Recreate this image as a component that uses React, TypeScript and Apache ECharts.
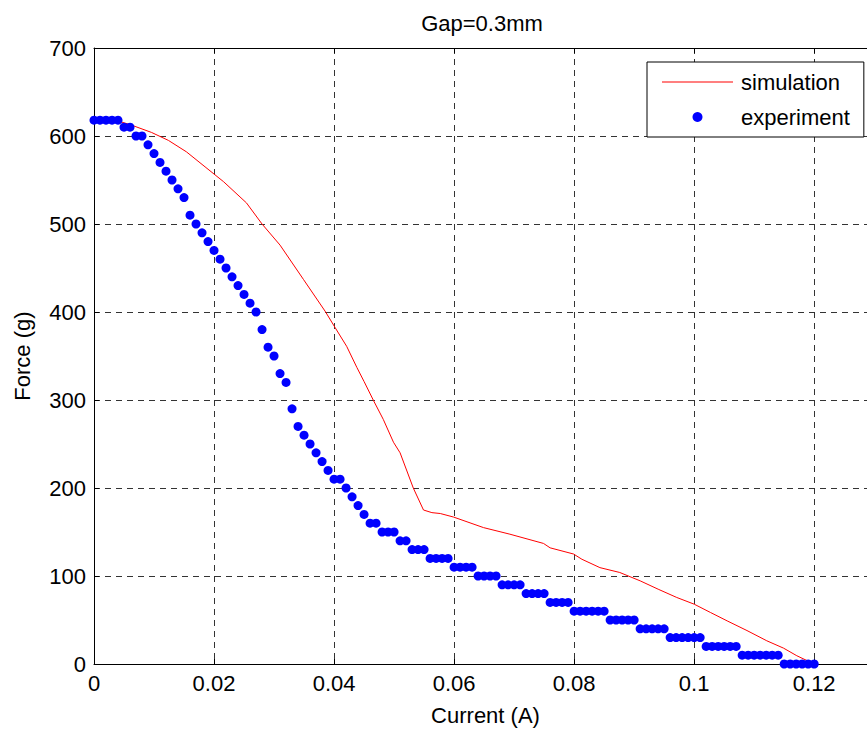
import React, { useEffect, useRef } from "react";
import * as echarts from "echarts";

const titleText = "Gap=0.3mm";
const xAxisName = "Current (A)";
const yAxisName = "Force (g)";
const simName = "simulation";
const expName = "experiment";

// experiment: current (A)
const expCurrent = [
  0, 0.001, 0.002, 0.003, 0.004, 0.005, 0.006, 0.007, 0.008, 0.009,
  0.01, 0.011, 0.012, 0.013, 0.014, 0.015, 0.016, 0.017, 0.018, 0.019,
  0.02, 0.021, 0.022, 0.023, 0.024, 0.025, 0.026, 0.027, 0.028, 0.029,
  0.03, 0.031, 0.032, 0.033, 0.034, 0.035, 0.036, 0.037, 0.038, 0.039,
  0.04, 0.041, 0.042, 0.043, 0.044, 0.045, 0.046, 0.047, 0.048, 0.049,
  0.05, 0.051, 0.052, 0.053, 0.054, 0.055, 0.056, 0.057, 0.058, 0.059,
  0.06, 0.061, 0.062, 0.063, 0.064, 0.065, 0.066, 0.067, 0.068, 0.069,
  0.07, 0.071, 0.072, 0.073, 0.074, 0.075, 0.076, 0.077, 0.078, 0.079,
  0.08, 0.081, 0.082, 0.083, 0.084, 0.085, 0.086, 0.087, 0.088, 0.089,
  0.09, 0.091, 0.092, 0.093, 0.094, 0.095, 0.096, 0.097, 0.098, 0.099,
  0.1, 0.101, 0.102, 0.103, 0.104, 0.105, 0.106, 0.107, 0.108, 0.109,
  0.11, 0.111, 0.112, 0.113, 0.114, 0.115, 0.116, 0.117, 0.118, 0.119,
  0.12,
];
// experiment: force (g)
const expForce = [
  618, 618, 618, 618, 618, 610, 610, 600, 600, 590,
  580, 570, 560, 550, 540, 530, 510, 500, 490, 480,
  470, 460, 450, 440, 430, 420, 410, 400, 380, 360,
  350, 330, 320, 290, 270, 260, 250, 240, 230, 220,
  210, 210, 200, 190, 180, 170, 160, 160, 150, 150,
  150, 140, 140, 130, 130, 130, 120, 120, 120, 120,
  110, 110, 110, 110, 100, 100, 100, 100, 90, 90,
  90, 90, 80, 80, 80, 80, 70, 70, 70, 70,
  60, 60, 60, 60, 60, 60, 50, 50, 50, 50,
  50, 40, 40, 40, 40, 40, 30, 30, 30, 30,
  30, 30, 20, 20, 20, 20, 20, 20, 10, 10,
  10, 10, 10, 10, 10, 0, 0, 0, 0, 0,
  0,
];

// simulation curve
const simCurrent = [
  0, 0.004, 0.006, 0.0096, 0.0124, 0.0154, 0.0185, 0.0216, 0.0254, 0.028,
  0.031, 0.0349, 0.0385, 0.0402, 0.0421, 0.0438, 0.045, 0.0466, 0.0482, 0.0499,
  0.051, 0.0532, 0.0549, 0.0563, 0.0577, 0.0599, 0.0649, 0.0693, 0.0749, 0.076,
  0.0799, 0.0813, 0.0843, 0.0876, 0.091, 0.094, 0.0971, 0.1, 0.1027, 0.1055,
  0.1088, 0.1121, 0.1149, 0.1171, 0.12,
];
const simForce = [
  618, 617, 613, 604, 595, 582, 565, 548, 524, 500,
  476, 437, 401, 382, 361, 337, 321, 299, 278, 252,
  240, 200, 175, 172, 171, 167, 155, 147.5, 137, 132,
  125, 119, 109.5, 104, 94.5, 85, 75.6, 68, 58.6, 49,
  38, 26.4, 18, 9.4, 0,
];

// visible x-extent (the plot is cropped at the right edge of the picture)
const xMin = 0;
const xMax = 0.1288;
const xStep = 0.02;
const yMin = 0;
const yMax = 700;
const yStep = 100;

const FONT = "'Liberation Sans', Arial, Helvetica, sans-serif";

export default function App() {
  const ref = useRef<HTMLDivElement>(null);
  useEffect(() => {
    if (!ref.current) return;
    const chart = echarts.init(ref.current, undefined, { renderer: "svg" });
    const expData = expCurrent.map((x, i) => [x, expForce[i]]);
    const simData = simCurrent.map((x, i) => [x, simForce[i]]);
    const splitLine = {
      show: true,
      lineStyle: { color: "#333", width: 1, type: [6, 5] as any },
    };
    chart.setOption({
      animation: false,
      backgroundColor: "#ffffff",
      textStyle: { fontFamily: FONT },
      grid: { left: 94, top: 48, right: 0, bottom: 66, containLabel: false },
      graphic: [
        {
          type: "text",
          x: 482,
          y: 23,
          style: {
            text: titleText,
            font: `22px ${FONT}`,
            fill: "#000",
            textAlign: "center",
            textVerticalAlign: "middle",
          },
        },
      ],
      legend: {
        orient: "vertical",
        left: 647,
        top: 62,
        padding: [9, 14, 9, 15],
        itemGap: 13,
        itemWidth: 71,
        itemHeight: 10,
        backgroundColor: "#fff",
        borderColor: "#000",
        borderWidth: 1,
        borderRadius: 0,
        textStyle: { fontSize: 22, color: "#000", fontFamily: FONT, padding: [0, 0, 0, 3] },
        data: [
          { name: simName, icon: "path://M0,0 H71 V1 H0 Z", itemStyle: { color: "#ff0000" } },
          { name: expName, icon: "circle" },
        ],
      },
      xAxis: [
        {
          type: "value",
          min: xMin,
          max: xMax,
          interval: xStep,
          name: xAxisName,
          nameLocation: "middle",
          nameGap: 40,
          nameTextStyle: { fontSize: 22, color: "#000", fontFamily: FONT, padding: [0, 0, 0, 10] },
          axisLine: { show: true, onZero: false, lineStyle: { color: "#000", width: 1 } },
          axisTick: { show: true, inside: true, length: 5, lineStyle: { color: "#000" } },
          axisLabel: {
            fontSize: 22,
            color: "#000",
            fontFamily: FONT,
            margin: 8,
            showMaxLabel: false,
            formatter: (v: number) => (v > 0.125 ? "" : String(+v.toFixed(3))),
          },
          splitLine,
        },
        {
          type: "value",
          position: "top",
          min: xMin,
          max: xMax,
          interval: xStep,
          axisLine: { show: true, onZero: false, lineStyle: { color: "#000", width: 1 } },
          axisTick: { show: true, inside: true, length: 5, lineStyle: { color: "#000" } },
          axisLabel: { show: false },
          splitLine: { show: false },
        },
      ],
      yAxis: [
        {
          type: "value",
          min: yMin,
          max: yMax,
          interval: yStep,
          name: yAxisName,
          nameLocation: "middle",
          nameGap: 61,
          nameTextStyle: { fontSize: 22, color: "#000", fontFamily: FONT },
          axisLine: { show: true, onZero: false, lineStyle: { color: "#000", width: 1 } },
          axisTick: { show: true, inside: true, length: 5, lineStyle: { color: "#000" } },
          axisLabel: { fontSize: 22, color: "#000", fontFamily: FONT, margin: 8 },
          splitLine,
        },
      ],
      series: [
        {
          name: simName,
          type: "line",
          data: simData,
          showSymbol: false,
          symbol: "none",
          lineStyle: { color: "#ff0000", width: 1 },
          itemStyle: { color: "#ff0000" },
          z: 2,
        },
        {
          name: expName,
          type: "scatter",
          data: expData,
          symbol: "circle",
          symbolSize: 9,
          itemStyle: { color: "#0000ff", opacity: 1 },
          z: 3,
        },
      ],
    });
    return () => chart.dispose();
  }, []);
  return (
    <div
      ref={ref}
      style={{ position: "fixed", left: 0, top: 0, width: 867, height: 731, background: "#fff" }}
    />
  );
}
